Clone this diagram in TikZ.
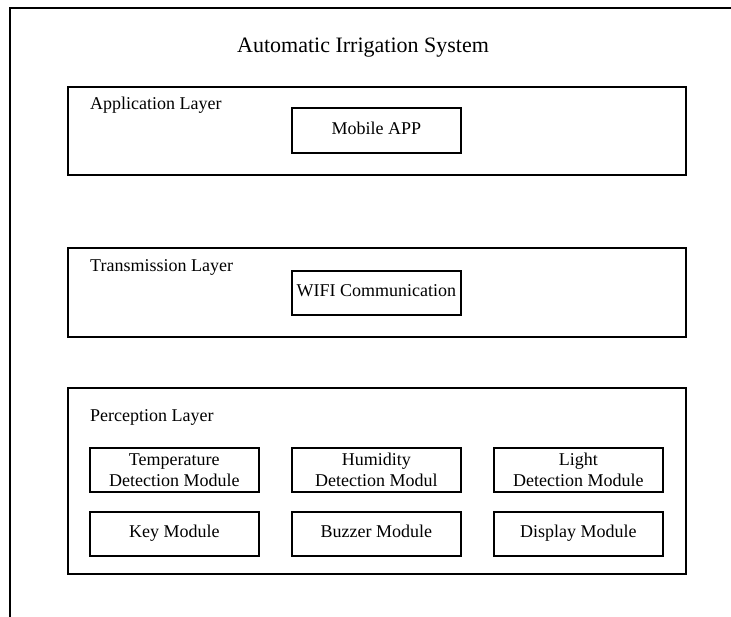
\documentclass[tikz,border=0pt]{standalone}
\usepackage{fontspec}
\setmainfont{Liberation Serif}
\begin{document}
\begin{tikzpicture}[x=1pt,y=-1pt,
  framestyle/.style={line width=2pt,black},
  layerbox/.style={draw,line width=1.6pt,anchor=north west,inner sep=0pt},
  modbox/.style={draw,line width=1.6pt,anchor=north west,inner sep=0pt,
    minimum width=169pt,minimum height=44pt,font=\fontsize{18pt}{21pt}\selectfont},
  onebox/.style={modbox,text height=12pt,text depth=4pt},
  twobox/.style={modbox,align=center},
  lbl/.style={anchor=base west,inner sep=0pt,font=\fontsize{18pt}{21pt}\selectfont},
  titlestyle/.style={anchor=base west,inner sep=0pt,font=\fontsize{22pt}{26pt}\selectfont}]
\useasboundingbox (0,0) rectangle (731,617);
% outer frame (cropped: only top and left edges visible)
\coordinate (fc) at (10,8);
\coordinate (fr) at (731,8);
\coordinate (fb) at (10,617);
\draw[framestyle] (fr) -- (fc) -- (fb);
% title
\node[titlestyle] (title) at (237,53) {Automatic Irrigation System};
% application layer
\node[layerbox,minimum width=618pt,minimum height=88pt] (app) at (67,86) {};
\node[lbl] (applbl) at (90,110) {Application Layer};
\node[onebox,minimum height=45pt] (mobile) at (291,107) {Mobile APP};
% transmission layer
\node[layerbox,minimum width=618pt,minimum height=89pt] (trans) at (67,247) {};
\node[lbl] (translbl) at (90,272) {Transmission Layer};
\node[onebox] (wifi) at (291,270) {WIFI Communication};
% perception layer
\node[layerbox,minimum width=618pt,minimum height=186pt] (perc) at (67,387) {};
\node[lbl] (perclbl) at (90,421) {Perception Layer};
\node[twobox] (temp) at (89,447) {Temperature\\Detection Module};
\node[twobox] (hum) at (291,447) {Humidity\\Detection Modul};
\node[twobox] (light) at (493,447) {Light\\Detection Module};
\node[onebox] (key) at (89,511) {Key Module};
\node[onebox] (buzz) at (291,511) {Buzzer Module};
\node[onebox] (disp) at (493,511) {Display Module};
\end{tikzpicture}
\end{document}
